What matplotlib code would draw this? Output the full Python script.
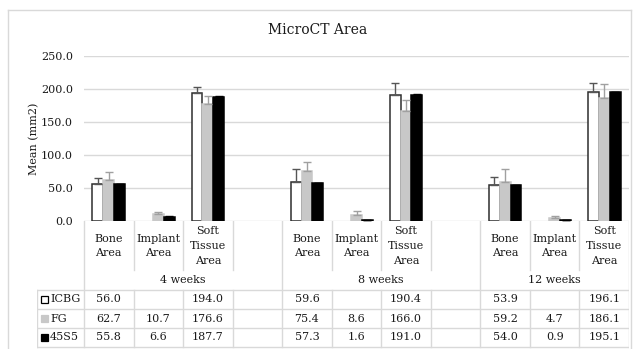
import numpy as np
import matplotlib
matplotlib.use("Agg")
import matplotlib.pyplot as plt
from matplotlib.patches import Rectangle
from matplotlib.lines import Line2D

# ---- data -------------------------------------------------------------
groups = ["4 weeks", "8 weeks", "12 weeks"]
categories = ["Bone\nArea", "Implant\nArea", "Soft\nTissue\nArea"]
series = ["ICBG", "FG", "45S5"]

icbg = [56.0, np.nan, 194.0, 59.6, np.nan, 190.4, 53.9, np.nan, 196.1]
fg = [62.7, 10.7, 176.6, 75.4, 8.6, 166.0, 59.2, 4.7, 186.1]
s45 = [55.8, 6.6, 187.7, 57.3, 1.6, 191.0, 54.0, 0.9, 195.1]

icbg_err = [9.0, 0.0, 8.6, 19.0, 0.0, 18.8, 12.5, 0.0, 12.5]
fg_err = [11.7, 3.5, 13.5, 14.0, 6.5, 17.5, 19.0, 3.5, 21.0]
s45_err = [1.0, 1.0, 1.0, 1.0, 0.5, 1.0, 0.5, 0.3, 0.5]

values = [icbg, fg, s45]
errors = [icbg_err, fg_err, s45_err]

# ---- style --------------------------------------------------------------
W, H = 636, 349
FONT = "DejaVu Serif"
plt.rcParams["font.family"] = FONT
TXT = "#1a1a1a"
GRID = "#d9d9d9"
FS = 8
face = ["white", "#c8c8c8", "black"]
edge = ["#2e2e2e", "#c8c8c8", "black"]
ecol = ["#555555", "#a0a0a0", "black"]

fig = plt.figure(figsize=(W / 100, H / 100), dpi=100)


def fx(px):
    return px / W


def fy(py):
    return 1 - py / H


# slot layout: 4 slots per group except last (blank slot between groups)
slot_of = []
for g in range(len(groups)):
    for c in range(len(categories)):
        slot_of.append(g * 4 + c)
n_slots = 11
X0, X1 = 84, 629          # plot left/right in px
Y_TOP, Y_ZERO = 56, 221   # 250 and 0 in px
slot_px = (X1 - X0) / n_slots

ax = fig.add_axes([fx(X0), fy(Y_ZERO), fx(X1) - fx(X0), fy(Y_TOP) - fy(Y_ZERO)])
ax.set_xlim(0, n_slots)
ax.set_ylim(0, 250)
ax.set_yticks(np.arange(0, 251, 50))
ax.set_yticklabels([f"{v:.1f}" for v in np.arange(0, 251, 50)], fontsize=FS, color=TXT)
ax.set_xticks([])
ax.tick_params(axis="y", length=0, pad=8)
ax.yaxis.grid(True, color=GRID, lw=1)
ax.set_axisbelow(True)
for s in ax.spines.values():
    s.set_visible(False)

bw = 0.22
centers = np.array(slot_of) + 0.5
for k in range(3):
    xs = centers + (k - 1) * bw
    vals = np.array(values[k], dtype=float)
    errs = np.array(errors[k], dtype=float)
    ok = ~np.isnan(vals)
    ax.bar(xs[ok], vals[ok], width=bw, facecolor=face[k], edgecolor=edge[k],
           linewidth=1.1, zorder=3)
    ax.errorbar(xs[ok], vals[ok], yerr=[np.zeros(ok.sum()), errs[ok]], fmt="none",
                ecolor=ecol[k], elinewidth=1, capsize=3, capthick=1, zorder=4)

fig.text(fx(34), fy(138.5), "Mean (mm2)", rotation=90, ha="center", va="center",
         fontsize=FS, color=TXT)
fig.text(0.5, fy(30), "MicroCT Area", ha="center", va="center", fontsize=10, color=TXT)

# ---- category / data table below the axis ---------------------------
TL = 37
tab = fig.add_axes([fx(TL), fy(349), fx(X1) - fx(TL), fy(Y_ZERO) - fy(349)])
xl = (TL - X0) / slot_px
tab.set_xlim(xl, n_slots)
tab.set_ylim(349, Y_ZERO)
tab.axis("off")

CAT_B, GRP_B = 270, 289.5
rows = [GRP_B, 309, 328, 347]
lw = 1.0
for b in range(n_slots + 1):
    if b in (0, 4, 8, 11):
        tab.plot([b, b], [Y_ZERO, rows[-1]], color=GRID, lw=lw)
    else:
        tab.plot([b, b], [Y_ZERO, CAT_B], color=GRID, lw=lw)
        tab.plot([b, b], [GRP_B, rows[-1]], color=GRID, lw=lw)
tab.plot([xl + 0.01, xl + 0.01], [GRP_B, rows[-1]], color=GRID, lw=lw)
for r in rows:
    tab.plot([xl, n_slots], [r, r], color=GRID, lw=lw)

for i, s in enumerate(slot_of):
    tab.text(s + 0.5, 246, categories[i % 3], ha="center", va="center",
             fontsize=FS, color=TXT, linespacing=1.6)
for g, name in enumerate(groups):
    start = g * 4
    end = start + 4 if g < len(groups) - 1 else n_slots
    tab.text((start + end) / 2, 280, name, ha="center", va="center", fontsize=FS, color=TXT)

for k in range(3):
    yc = (rows[k] + rows[k + 1]) / 2
    for i, s in enumerate(slot_of):
        v = values[k][i]
        if not np.isnan(v):
            tab.text(s + 0.5, yc, f"{v:.1f}", ha="center", va="center", fontsize=FS, color=TXT)
    # legend key + series name
    kx = xl + 4 / slot_px
    ks = 7 / slot_px
    tab.add_patch(Rectangle((kx, yc - 3.5), ks, 7, facecolor=face[k],
                            edgecolor="black" if k == 0 else face[k], lw=0.9))
    tab.text(kx + ks + 2 / slot_px, yc, series[k], ha="left", va="center",
             fontsize=FS, color=TXT)

# chart frame
fig.add_artist(Line2D([fx(8), fx(631)], [fy(10), fy(10)], color=GRID, lw=1))
fig.add_artist(Line2D([fx(8), fx(8)], [fy(10), fy(349)], color=GRID, lw=1))
fig.add_artist(Line2D([fx(631), fx(631)], [fy(10), fy(349)], color=GRID, lw=1))

fig.savefig("out.png", dpi=100)
